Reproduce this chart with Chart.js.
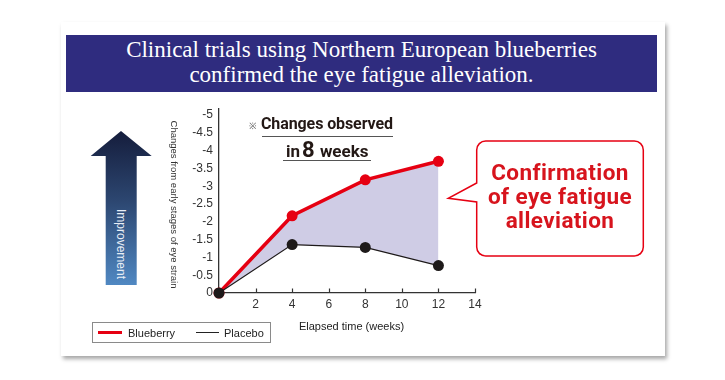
<!DOCTYPE html>
<html>
<head>
<meta charset="utf-8">
<script src="https://cdn.jsdelivr.net/npm/chart.js@4.4.0/dist/chart.umd.min.js"></script>
<style>
  html, body { margin: 0; padding: 0; background: #ffffff; }
  body { width: 725px; height: 380px; position: relative; overflow: hidden; font-family: "Liberation Sans", Arial, sans-serif; }
  .card { position: absolute; left: 61px; top: 22px; width: 604px; height: 334px; background: #fff; box-shadow: 2px 3px 4px rgba(0,0,0,0.35); }
  .banner { position: absolute; left: 66px; top: 35px; width: 591px; height: 57px; background: #2f2c7f; color: #fff;
    font-family: "Liberation Serif", "DejaVu Serif", serif; font-size: 23px; line-height: 24.5px; text-align: center; padding-top: 3px; box-sizing: border-box; }
  #chartWrap { position: absolute; left: 0; top: 0; width: 725px; height: 380px; }
  .note { position: absolute; color: #231815; font-family: Roboto, "Liberation Sans", sans-serif; font-weight: 700; white-space: nowrap; }
  .uline { position: absolute; height: 1.3px; background: #555; }
  .legend { position: absolute; left: 92px; top: 322px; width: 177px; height: 19px; border: 1px solid #8a8a8a; background: #fff; }
  .legend .sw { position: absolute; }
  .legend .lt { position: absolute; font-size: 11px; color: #222; line-height: 12px; }
  .callText { position: absolute; left: 477px; top: 160px; width: 166px; text-align: center; color: #d7141d;
    font-family: Roboto, "Liberation Sans", sans-serif; font-weight: 700; font-size: 22.5px; line-height: 24px; letter-spacing: 0.4px; }
  svg { position: absolute; left: 0; top: 0; }
</style>
</head>
<body>
<div class="card"></div>
<div class="banner">Clinical trials using Northern European blueberries<br>confirmed the eye fatigue alleviation.</div>

<svg width="725" height="380">
  <defs>
    <linearGradient id="arrowGrad" x1="0" y1="0" x2="0" y2="1">
      <stop offset="0" stop-color="#151d3c"/>
      <stop offset="0.45" stop-color="#2c4670"/>
      <stop offset="1" stop-color="#5088c2"/>
    </linearGradient>
  </defs>
  <polygon points="121,131 151.7,156 136.7,156 136.7,285 105.7,285 105.7,156 90.7,156" fill="url(#arrowGrad)"/>
  <text x="0" y="0" transform="translate(121,244) rotate(90)" text-anchor="middle" dominant-baseline="central"
        font-family="Liberation Sans, Arial, sans-serif" font-size="12" fill="#e9eef6">Improvement</text>
</svg>

<div id="chartWrap"><canvas id="c" width="725" height="380"></canvas></div>

<svg width="725" height="380" style="pointer-events:none">
  <path d="M485.7,141 H634.3 A9,9 0 0 1 643.3,150 V247 A9,9 0 0 1 634.3,256 H485.7 A9,9 0 0 1 476.7,247 V202 L448.3,198.3 L476.7,183 V150 A9,9 0 0 1 485.7,141 Z"
        fill="#ffffff" stroke="#e60012" stroke-width="1.5"/>
</svg>
<div class="callText">Confirmation<br>of eye fatigue<br>alleviation</div>

<div class="note" style="left:249px; top:119px; font-size:9px; font-weight:400; color:#555;">※</div>
<div class="note" style="left:261px; top:114px; font-size:16px; letter-spacing:-0.1px;">Changes observed</div>
<div class="uline" style="left:262px; top:136px; width:131px;"></div>
<div class="note" style="left:286px; top:137px; font-size:17px;">in<span style="font-size:22px; margin-left:2px; margin-right:1px;">8</span> weeks</div>
<div class="uline" style="left:283px; top:160px; width:88px;"></div>

<div class="legend">
  <div class="sw" style="left:5px; top:8px; width:24px; height:3px; background:#e60012;"></div>
  <div class="lt" id="lg0" style="left:35px; top:4px;"></div>
  <div class="sw" style="left:103px; top:9px; width:23px; height:1.4px; background:#222;"></div>
  <div class="lt" id="lg1" style="left:131px; top:4px;"></div>
</div>

<script>
// ---- data ----
const weeks = [0, 4, 8, 12];
const blueberry = [0, -2.17, -3.18, -3.70];
const placebo = [0, -1.36, -1.28, -0.77];
const seriesNames = ["Blueberry", "Placebo"];
const xTickValues = [2, 4, 6, 8, 10, 12, 14];
const yAxisTitle = "Changes from early stages of eye strain";
const xAxisTitle = "Elapsed time (weeks)";

document.getElementById('lg0').textContent = seriesNames[0];
document.getElementById('lg1').textContent = seriesNames[1];

const toPts = (ys) => weeks.map((w, i) => ({ x: w, y: ys[i] }));

const extras = {
  id: 'extras',
  afterDraw(chart) {
    const ctx = chart.ctx;
    const xs = chart.scales.x, ys = chart.scales.y;
    const a = chart.chartArea;
    ctx.save();
    ctx.strokeStyle = '#333';
    ctx.lineWidth = 1.2;
    xTickValues.forEach(v => {
      const px = Math.round(xs.getPixelForValue(v)) + 0.5;
      ctx.beginPath();
      ctx.moveTo(px, a.bottom);
      ctx.lineTo(px, a.bottom - 4.5);
      ctx.stroke();
    });
    ctx.fillStyle = '#333';
    ctx.font = '9.5px "Liberation Sans", Arial, sans-serif';
    ctx.textAlign = 'center';
    ctx.textBaseline = 'middle';
    ctx.translate(173.5, (ys.getPixelForValue(-5) + ys.getPixelForValue(0)) / 2 + 0.5);
    ctx.rotate(Math.PI / 2);
    ctx.fillText(yAxisTitle, 0, 0);
    ctx.restore();
    ctx.save();
    ctx.fillStyle = '#222';
    ctx.font = '11px "Liberation Sans", Arial, sans-serif';
    ctx.textAlign = 'center';
    ctx.textBaseline = 'middle';
    ctx.fillText(xAxisTitle, 351.5, 326.5);
    ctx.restore();
  }
};

new Chart(document.getElementById('c'), {
  type: 'line',
  data: {
    datasets: [
      {
        label: seriesNames[1],
        data: toPts(placebo),
        borderColor: '#1e1a1a',
        backgroundColor: '#1e1a1a',
        borderWidth: 1.2,
        pointRadius: 5.5,
        pointBackgroundColor: '#1e1a1a',
        pointBorderWidth: 0,
        fill: false,
        tension: 0,
        clip: false
      },
      {
        label: seriesNames[0],
        data: toPts(blueberry),
        borderColor: '#e60012',
        backgroundColor: '#cfcce5',
        borderWidth: 3.5,
        pointRadius: 5.5,
        pointBackgroundColor: '#e60012',
        pointBorderWidth: 0,
        fill: '-1',
        tension: 0,
        clip: false
      }
    ]
  },
  options: {
    responsive: false,
    animation: false,
    events: [],
    layout: { padding: { left: 179, right: 250, top: 109, bottom: 67 } },
    plugins: { legend: { display: false }, tooltip: { enabled: false } },
    scales: {
      x: {
        type: 'linear',
        min: 0, max: 14,
        afterFit(s) { s.height = 20; },
        afterBuildTicks(s) { s.ticks = xTickValues.map(v => ({ value: v })); },
        grid: { display: true, drawOnChartArea: false, drawTicks: false },
        border: { display: true, color: '#333', width: 1.3 },
        ticks: { padding: 4, color: '#333', font: { family: '"Liberation Sans", Arial, sans-serif', size: 12 } }
      },
      y: {
        type: 'linear',
        reverse: true,
        min: -5.17, max: 0,
        afterFit(s) { s.width = 40; },
        afterBuildTicks(s) {
          const t = [];
          for (let v = -5; v <= 0.0001; v += 0.5) t.push({ value: Math.round(v * 10) / 10 });
          s.ticks = t;
        },
        grid: { display: true, drawOnChartArea: false, drawTicks: false },
        border: { display: true, color: '#333', width: 1.3 },
        ticks: {
          padding: 6, color: '#333',
          font: { family: '"Liberation Sans", Arial, sans-serif', size: 12 },
          callback: (v) => String(v)
        }
      }
    }
  },
  plugins: [extras]
});
</script>
</body>
</html>
